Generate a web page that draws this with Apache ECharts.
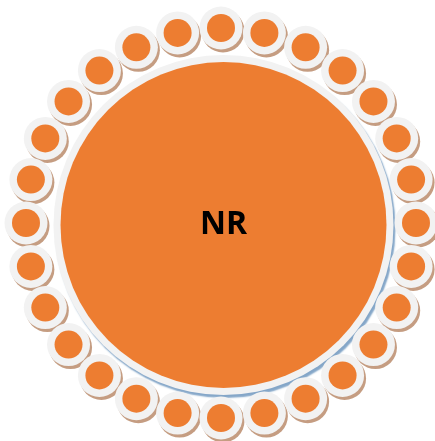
<!DOCTYPE html>
<html>
<head>
<meta charset="utf-8">
<script src="https://cdn.jsdelivr.net/npm/echarts@6/dist/echarts.min.js"></script>
<style>html,body{margin:0;padding:0;background:#fff;}#main{width:435px;height:441px;}</style>
</head>
<body>
<div id="main"></div>
<script>
// Data
const centerLabel = 'NR';
const centerValue = [100];
const ringNodes = ['1','2','3','4','5','6','7','8','9','10','11','12','13','14','15','16','17','18','19','20','21','22','23','24','25','26','27','28'];
const ringValues = [1,1,1,1,1,1,1,1,1,1,1,1,1,1,1,1,1,1,1,1,1,1,1,1,1,1,1,1];

const chart = echarts.init(document.getElementById('main'), null, {renderer: 'canvas'});
const step = 360 / ringNodes.length;
const ringData = ringNodes.map((n, i) => [ringValues[i], n]);
function ringLayer(size, color, z, offset) {
  return {
    type: 'scatter', coordinateSystem: 'polar', silent: true, z: z,
    symbol: 'circle', symbolSize: size, symbolOffset: offset || [0, 0],
    itemStyle: {color: color, opacity: 1},
    data: ringData
  };
}
chart.setOption({
  animation: false,
  backgroundColor: '#ffffff',
  polar: { center: [221, 223], radius: 195 },
  angleAxis: {
    type: 'category', data: ringNodes, startAngle: 90 + step / 2, clockwise: true,
    axisLine: {show: false}, axisTick: {show: false}, axisLabel: {show: false}, splitLine: {show: false}
  },
  radiusAxis: {
    type: 'value', min: 0, max: 1,
    axisLine: {show: false}, axisTick: {show: false}, axisLabel: {show: false}, splitLine: {show: false}
  },
  series: [
    {
      type: 'pie', silent: true, center: [223.5, 225], radius: [0, 170], z: 1,
      label: {show: false}, labelLine: {show: false},
      itemStyle: {
        color: '#F2F2F2',
        shadowColor: 'rgba(110,150,190,0.85)', shadowBlur: 1.5, shadowOffsetX: 2, shadowOffsetY: 3
      },
      data: centerValue.map(v => ({name: centerLabel, value: v}))
    },
    {
      type: 'pie', silent: true, center: [223.5, 225], radius: [0, 163], z: 2,
      label: {
        show: true, position: 'center', formatter: '{b}',
        color: '#000000', fontSize: 32, fontWeight: 'bold', fontFamily: 'Open Sans'
      },
      labelLine: {show: false},
      itemStyle: {color: '#ED7D31'},
      data: centerValue.map(v => ({name: centerLabel, value: v}))
    },
    ringLayer(43, '#C59D82', 3, [2, 3]),
    ringLayer(43, '#F2F2F2', 4),
    ringLayer(28, '#ED7D31', 5)
  ]
});
</script>
</body>
</html>
